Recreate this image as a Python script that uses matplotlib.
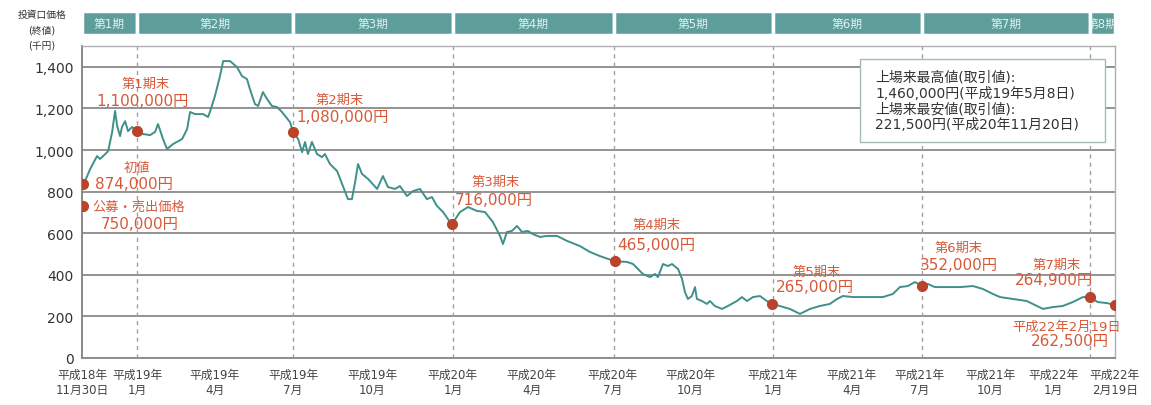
import matplotlib

matplotlib.use("Agg")
import matplotlib.pyplot as plt
import matplotlib.transforms as mtransforms
from matplotlib.patches import Rectangle

# DejaVu first for the wide digits, Noto CJK picks up the Japanese glyphs
plt.rcParams["font.family"] = ["DejaVu Sans", "Noto Sans CJK JP"]

# x is in months from the end of period 1 (平成18年12月末), as the chart scales it
price_x = [
    -2.04, -1.77, -1.51, -1.40, -1.28, -1.09, -0.94, -0.83, -0.75, -0.64, -0.57, -0.45,
    -0.34, -0.19, 0.0, 0.23, 0.49, 0.68, 0.79, 0.98, 1.13, 1.36, 1.70, 1.89, 2.0, 2.19,
    2.49, 2.68, 2.75, 2.94, 3.13, 3.25, 3.51, 3.77, 3.96, 4.15, 4.26, 4.45, 4.57, 4.75,
    4.91, 5.09, 5.28, 5.47, 5.77, 5.89, 6.08, 6.23, 6.34, 6.45, 6.60, 6.79, 6.98, 7.09,
    7.28, 7.55, 7.77, 7.96, 8.11, 8.23, 8.34, 8.49, 8.72, 9.06, 9.28, 9.47, 9.74, 9.92,
    10.19, 10.42, 10.68, 10.94, 11.13, 11.32, 11.55, 11.81, 11.89, 12.19, 12.49, 12.83,
    13.13, 13.43, 13.70, 13.81, 13.96, 14.15, 14.34, 14.53, 14.75, 14.94, 15.21, 15.47,
    15.85, 16.23, 16.72, 17.09, 17.47, 18.04, 18.49, 18.72, 19.09, 19.36, 19.55, 19.66,
    19.85, 20.04, 20.19, 20.42, 20.57, 20.68, 20.79, 20.94, 21.06, 21.13, 21.32, 21.51,
    21.62, 21.81, 22.08, 22.30, 22.64, 22.83, 23.02, 23.25, 23.51, 23.77, 23.96, 24.26,
    24.64, 25.02, 25.40, 25.77, 26.15, 26.42, 26.64, 27.02, 27.55, 28.15, 28.53, 28.79,
    29.09, 29.36, 29.62, 29.85, 30.11, 30.57, 31.06, 31.55, 31.92, 32.30, 32.57, 33.06,
    33.58, 33.96, 34.19, 34.57, 34.94, 35.32, 35.70, 35.96, 36.26, 36.60, 36.91,
]
price_k = [
    827, 909, 971, 957, 971, 995, 1087, 1188, 1115, 1067, 1111, 1139,
    1091, 1111, 1090, 1077, 1072, 1087, 1125, 1053, 1005, 1029, 1053, 1101, 1183, 1173,
    1173, 1159, 1183, 1260, 1356, 1428, 1428, 1399, 1356, 1341, 1293, 1221, 1212, 1279,
    1245, 1212, 1207, 1183, 1135, 1087, 1053, 990, 1039, 981, 1039, 981, 966, 981,
    933, 899, 827, 764, 764, 846, 933, 885, 861, 813, 875, 822, 813, 827,
    779, 803, 813, 764, 774, 731, 702, 654, 645, 702, 726, 707,
    702, 654, 587, 548, 606, 611, 635, 606, 611, 596, 582, 587,
    587, 563, 538, 510, 490, 465, 462, 452, 404, 389, 404, 389,
    452, 442, 452, 428, 380, 317, 284, 298, 341, 284, 274, 260,
    274, 250, 236, 250, 274, 293, 274, 293, 298, 274, 262, 250,
    236, 212, 236, 250, 260, 284, 298, 293, 293, 293, 308, 341,
    346, 365, 348, 356, 341, 341, 341, 346, 332, 308, 293, 284,
    274, 250, 236, 245, 250, 269, 293, 293, 269, 264, 255,
]

# marked points as drawn on the chart
mark_x = [-2.04, -2.04, 0.0, 5.89, 11.89, 18.04, 23.96, 29.62, 35.96, 36.91]
mark_k = [837, 731, 1090, 1085, 645, 465, 262, 348, 293, 255]

note_head = ["初値", "公募・売出価格", "第1期末", "第2期末", "第3期末", "第4期末",
             "第5期末", "第6期末", "第7期末", "平成22年2月19日"]
note_value = ["874,000円", "750,000円", "1,100,000円", "1,080,000円", "716,000円",
              "465,000円", "265,000円", "352,000円", "264,900円", "262,500円"]
note_head_x = [0.0, 0.08, 0.34, 7.66, 13.55, 19.6, 25.66, 31.0, 34.7, 35.1]
note_head_y = [918, 731, 1322, 1245, 851, 644, 418, 534, 448, 154]
note_value_x = [-0.11, 0.11, 0.19, 7.74, 13.47, 19.6, 25.6, 31.0, 34.6, 35.2]
note_value_y = [837, 649, 1236, 1159, 764, 548, 346, 452, 376, 82]

period_edges = [-2.08, 0.0, 5.89, 11.92, 18.0, 24.0, 29.62, 35.96, 36.91]
period_names = ["第1期", "第2期", "第3期", "第4期", "第5期", "第6期", "第7期", "第8期"]

tick_pos = [-2.08, 0.0, 2.94, 5.89, 8.87, 11.92, 14.9, 17.96, 20.87, 24.0, 26.98,
            29.55, 32.2, 34.6, 36.91]
tick_text = ["平成18年\n11月30日", "平成19年\n1月", "平成19年\n4月", "平成19年\n7月",
             "平成19年\n10月", "平成20年\n1月", "平成20年\n4月", "平成20年\n7月",
             "平成20年\n10月", "平成21年\n1月", "平成21年\n4月", "平成21年\n7月",
             "平成21年\n10月", "平成22年\n1月", "平成22年\n2月19日"]

y_ticks = [0, 200, 400, 600, 800, 1000, 1200, 1400]

info_lines = ["上場来最高値(取引値):", "1,460,000円(平成19年5月8日)",
              "上場来最安値(取引値):", "221,500円(平成20年11月20日)"]

LINE = "#3f908b"
BAND = "#5d9e9a"
RED = "#d65a38"
DOT = "#b9432b"

fig = plt.figure(figsize=(11.51, 4.06), dpi=100)
ax = fig.add_axes([0.0712, 0.1158, 0.8975, 0.7682])

ax.set_xlim(period_edges[0], period_edges[-1])
ax.set_ylim(0, 1500)

for v in y_ticks:
    ax.axhline(v, color="#8a8a8a", lw=1.3, zorder=1)
for v in period_edges[1:-1]:
    ax.axvline(v, color="#a0a0a0", lw=1.0, ls=(0, (3, 3)), zorder=1)

ax.plot(price_x, price_k, color=LINE, lw=1.4, zorder=3)
ax.plot(mark_x, mark_k, "o", color=DOT, ms=7, zorder=4)

for i in range(len(note_head)):
    ax.text(note_head_x[i], note_head_y[i], note_head[i], color=RED, fontsize=9.5,
            ha="center", va="center", zorder=5)
    ax.text(note_value_x[i], note_value_y[i], note_value[i], color=RED, fontsize=11,
            ha="center", va="center", zorder=5)

# period band above the plot
band = mtransforms.blended_transform_factory(ax.transData, ax.transAxes)
for i, name in enumerate(period_names):
    x0, x1 = period_edges[i], period_edges[i + 1]
    rect = Rectangle((x0, 1.035), x1 - x0, 0.077, transform=band, facecolor=BAND,
                     edgecolor="white", lw=2.5, clip_on=False)
    ax.add_patch(rect)
    t = ax.text((x0 + x1) / 2, 1.073, name, transform=band, color="#e3f0ef",
                fontsize=8.5, ha="center", va="center", clip_on=True)
    t.set_clip_path(rect)

info = Rectangle((0.753, 0.692), 0.237, 0.266, transform=ax.transAxes,
                 facecolor="white", edgecolor="#9fbcba", lw=1.0, zorder=6)
ax.add_patch(info)
for line, yy in zip(info_lines, [0.901, 0.851, 0.800, 0.750]):
    ax.text(0.768, yy, line, transform=ax.transAxes, fontsize=10, color="#333333",
            ha="left", va="center", zorder=7)

ax.set_yticks(y_ticks, labels=[f"{v:,}" for v in y_ticks])
ax.set_xticks(tick_pos, labels=tick_text)
ax.tick_params(axis="y", length=0, pad=6, labelsize=10, labelcolor="#333333")
ax.tick_params(axis="x", length=0, pad=7, labelsize=8.5, labelcolor="#444444")

for side in ["top", "right"]:
    ax.spines[side].set_color("#b0b0b0")
    ax.spines[side].set_linewidth(1.0)
ax.spines["left"].set_color("#808080")
ax.spines["left"].set_linewidth(1.3)
ax.spines["bottom"].set_color("#8a8a8a")
ax.spines["bottom"].set_linewidth(1.3)

fig.text(0.0365, 0.963, "投資口価格", fontsize=7, ha="center", va="center", color="#333333")
fig.text(0.0365, 0.926, "(終値)", fontsize=7, ha="center", va="center", color="#333333")
fig.text(0.0365, 0.889, "(千円)", fontsize=7, ha="center", va="center", color="#333333")

fig.savefig("out.png", dpi=100)
